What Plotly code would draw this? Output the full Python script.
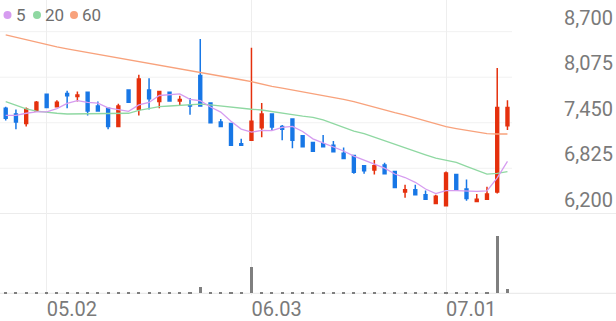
import plotly.graph_objects as go

# ---------------- data ----------------
dates = ["04.25", "04.26", "04.29", "04.30", "05.02", "05.03", "05.07", "05.08", "05.09", "05.10",
         "05.13", "05.14", "05.16", "05.17", "05.20", "05.21", "05.22", "05.23", "05.24", "05.27",
         "05.28", "05.29", "05.30", "05.31", "06.03", "06.04", "06.05", "06.07", "06.10", "06.11",
         "06.12", "06.13", "06.14", "06.17", "06.18", "06.19", "06.20", "06.21", "06.24", "06.25",
         "06.26", "06.27", "06.28", "07.01", "07.02", "07.03", "07.04", "07.05", "07.08", "07.09"]

open_ = [7650, 7570, 7440, 7610, 7840, 7670, 7850, 7810, 7870, 7680,
         7650, 7400, 7900, 7630, 7900, 7740, 7870, 7750, 7690, 8100,
         7720, 7460, 7440, 7160, 7210, 7380, 7570, 7400, 7500, 7270,
         7180, 7160, 7140, 7030, 7000, 6860, 6800, 6870, 6780, 6500,
         6530, 6460, 6340, 6310, 6740, 6540, 6370, 6400, 6500, 7410]
high = [7670, 7630, 7660, 7750, 7840, 7760, 7890, 7880, 7880, 7740,
        7660, 7710, 7900, 8110, 8060, 7880, 7880, 7820, 7790, 8600,
        7730, 7500, 7450, 7230, 8480, 7720, 7570, 7420, 7510, 7280,
        7190, 7280, 7200, 7110, 7010, 6860, 6940, 6900, 6790, 6600,
        6600, 6520, 6460, 6780, 6750, 6670, 6470, 6570, 8200, 7760]
low = [7480, 7360, 7400, 7600, 7650, 7660, 7650, 7740, 7550, 7600,
       7360, 7400, 7720, 7550, 7630, 7650, 7740, 7690, 7560, 7680,
       7440, 7400, 7130, 7130, 7210, 7250, 7350, 7210, 7100, 7110,
       7050, 7110, 7040, 6960, 6750, 6750, 6740, 6740, 6550, 6420,
       6460, 6390, 6330, 6300, 6520, 6380, 6370, 6400, 6480, 7350]
close = [7510, 7460, 7640, 7730, 7660, 7730, 7820, 7830, 7610, 7610,
         7400, 7680, 7730, 8050, 7780, 7880, 7750, 7770, 7680, 7680,
         7450, 7400, 7140, 7140, 7470, 7570, 7390, 7360, 7210, 7120,
         7060, 7120, 7050, 6960, 6770, 6790, 6860, 6750, 6560, 6530,
         6460, 6400, 6440, 6760, 6530, 6410, 6400, 6470, 7660, 7660]

ma5 = [7550, 7550, 7580, 7600, 7600, 7644, 7716, 7754, 7730, 7720,
       7654, 7626, 7606, 7694, 7728, 7824, 7838, 7846, 7772, 7752,
       7666, 7596, 7470, 7362, 7320, 7344, 7342, 7386, 7400, 7330,
       7228, 7174, 7112, 7062, 6992, 6938, 6886, 6826, 6746, 6698,
       6632, 6540, 6478, 6518, 6518, 6508, 6508, 6514, 6694, 6920]
ma20 = [7740, 7690, 7640, 7610, 7590, 7580, 7570, 7570, 7570, 7570,
        7570, 7570, 7580, 7620, 7650, 7670, 7680, 7690, 7700, 7705,
        7695, 7680, 7660, 7640, 7635, 7625, 7600, 7580, 7560, 7540,
        7525, 7490, 7435, 7380, 7335, 7300, 7250, 7205, 7155, 7110,
        7060, 7010, 6965, 6940, 6905, 6850, 6795, 6745, 6755, 6780]
ma60 = [8655, 8620, 8585, 8550, 8517, 8490, 8465, 8440, 8415, 8390,
        8365, 8340, 8315, 8290, 8266, 8243, 8220, 8197, 8173, 8150,
        8122, 8095, 8068, 8040, 8013, 7980, 7950, 7925, 7900, 7875,
        7850, 7830, 7800, 7770, 7740, 7700, 7660, 7620, 7590, 7556,
        7515, 7475, 7435, 7396, 7370, 7345, 7325, 7300, 7295, 7295]
volume = [12000, 10000, 14000, 11000, 12000, 16000, 13000, 12000, 24000, 12000,
          11000, 13000, 12000, 16000, 22000, 13000, 12000, 11000, 14000, 134000,
          20000, 14000, 12000, 13000, 532000, 28000, 16000, 12000, 14000, 12000,
          11000, 12000, 13000, 14000, 20000, 12000, 11000, 12000, 14000, 12000,
          11000, 12000, 13000, 18000, 16000, 12000, 11000, 14000, 1146000, 86000]

tick_dates = ["05.02", "06.03", "07.01"]
price_ticks = [6200, 6825, 7450, 8075, 8700]
legend_labels = ["5", "20", "60"]

RED = "#e5300d"
BLUE = "#1877e6"
C5 = "#d69cf0"
C20 = "#8fd8a2"
C60 = "#f8a27c"
TXT = "#7a7a7a"
GRID = "#f1f1f1"
SEP = "#e6e6e6"

x = list(range(len(dates)))
tickvals = [dates.index(d) for d in tick_dates]

fig = go.Figure()

fig.add_trace(go.Bar(x=x, y=volume, marker=dict(color="#7f7f7f", line=dict(width=0)),
                     width=0.3, xaxis="x2", yaxis="y2", hoverinfo="skip", showlegend=False))

for ma, col in [(ma60, C60), (ma20, C20), (ma5, C5)]:
    fig.add_trace(go.Scatter(x=x, y=ma, mode="lines", line=dict(color=col, width=1.3),
                             xaxis="x", yaxis="y", hoverinfo="skip", showlegend=False))

fig.add_trace(go.Candlestick(
    x=x, open=open_, high=high, low=low, close=close,
    increasing=dict(line=dict(color=RED, width=1.5), fillcolor=RED),
    decreasing=dict(line=dict(color=BLUE, width=1.5), fillcolor=BLUE),
    whiskerwidth=0, xaxis="x", yaxis="y", hoverinfo="skip", showlegend=False))

W, H = 616, 321
plot_h = 295
split = 81 / plot_h
xr = [-0.557, 59.6]

shapes = []
last_edge = len(dates) - 1 + 0.45
for p in price_ticks[1:]:
    shapes.append(dict(type="line", xref="x", yref="y", x0=xr[0], x1=last_edge, y0=p, y1=p,
                       line=dict(color=GRID, width=1), layer="below"))
shapes.append(dict(type="line", xref="paper", yref="y", x0=0, x1=1, y0=price_ticks[0], y1=price_ticks[0],
                   line=dict(color=SEP, width=1), layer="below"))
shapes.append(dict(type="line", xref="paper", yref="y2", x0=0, x1=1, y0=0, y1=0,
                   line=dict(color=SEP, width=1), layer="below"))

annotations = []
leg_x = [7.5, 37, 74]
for lab, col, lx in zip(legend_labels, [C5, C20, C60], leg_x):
    shapes.append(dict(type="circle", xref="paper", yref="paper", xsizemode="pixel", ysizemode="pixel",
                       xanchor=lx / W, yanchor=1 - 15 / plot_h, x0=-4, x1=4, y0=-4, y1=4,
                       fillcolor=col, line=dict(width=0)))
    annotations.append(dict(text=lab, xref="paper", yref="paper", x=(lx + 6) / W, y=1 - 15 / plot_h,
                            xanchor="left", yanchor="middle", showarrow=False,
                            font=dict(size=17, color="#6e6e6e", family="Roboto")))

fig.update_layout(
    width=W, height=H,
    margin=dict(l=0, r=0, t=0, b=H - plot_h),
    paper_bgcolor="white", plot_bgcolor="white",
    showlegend=False,
    boxgap=0.6,
    bargap=0,
    shapes=shapes,
    annotations=annotations,
    font=dict(family="Roboto", color=TXT),
    xaxis=dict(domain=[0, 1], range=xr, anchor="y", tickvals=tickvals, showticklabels=False,
               showgrid=True, gridcolor="#eeeeee", gridwidth=1, zeroline=False,
               rangeslider=dict(visible=False), ticks="", matches="x2"),
    yaxis=dict(domain=[split, 1], range=[6197, 9135], side="right", tickvals=price_ticks,
               ticktext=[f"{v:,}" for v in price_ticks], ticklabelposition="inside top",
               tickfont=dict(size=20, color=TXT, family="Roboto"), showgrid=False,
               zeroline=False, ticks=""),
    xaxis2=dict(domain=[0, 1], range=xr, anchor="y2", tickvals=tickvals, ticktext=tick_dates,
                ticklabelposition="outside right", tickfont=dict(size=20, color=TXT, family="Roboto"),
                showgrid=True, gridcolor="#eeeeee", gridwidth=1, zeroline=False, ticks=""),
    yaxis2=dict(domain=[0, split], range=[-34000, 1586000], showticklabels=False, showgrid=False,
                zeroline=False, ticks=""),
)

fig.write_html("out.html")
